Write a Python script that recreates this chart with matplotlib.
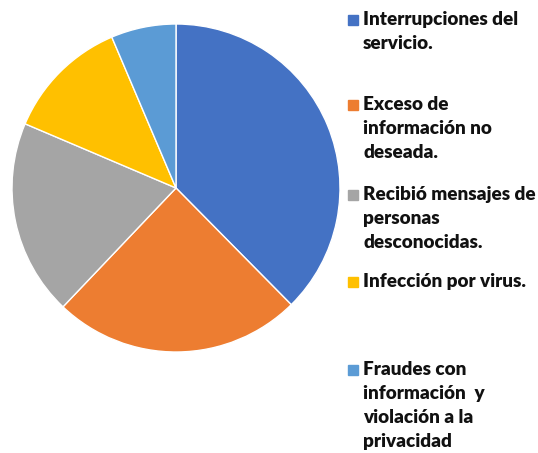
import matplotlib.pyplot as plt
from matplotlib.patches import Rectangle

labels = ["Interrupciones del\nservicio.",
          "Exceso de\ninformación no\ndeseada.",
          "Recibió mensajes de\npersonas\ndesconocidas.",
          "Infección por virus.",
          "Fraudes con\ninformación  y\nviolación a la\nprivacidad"]
values = [37.6, 24.5, 19.3, 12.2, 6.4]
colors = ["#4472C4", "#ED7D31", "#A5A5A5", "#FFC000", "#5B9BD5"]

W, H = 538, 453
fig = plt.figure(figsize=(W / 100, H / 100), dpi=100)

# pie centre ~ (176, 188) px, radius ~164 px
cx, cy, r = 176, 188, 164
ax = fig.add_axes([(cx - r) / W, (H - cy - r) / H, 2 * r / W, 2 * r / H])
ax.pie(values, colors=colors, startangle=90, counterclock=False, radius=1,
       wedgeprops=dict(edgecolor="white", linewidth=1))
ax.set_xlim(-1, 1)
ax.set_ylim(-1, 1)
ax.set_aspect("equal")
ax.axis("off")

# legend drawn by hand
item_y = [20, 105, 195, 282, 370]
for lab, col, y in zip(labels, colors, item_y):
    fig.patches.append(Rectangle((348 / W, (H - y - 5) / H), 10 / W, 10 / H,
                                 transform=fig.transFigure, color=col))
    fig.text(363 / W, (H - y + 9) / H, lab, fontsize=13.6, fontweight="heavy",
             family="Lato", va="top", ha="left", linespacing=1.5,
             color="#111111")

fig.savefig("out.png", dpi=100)
